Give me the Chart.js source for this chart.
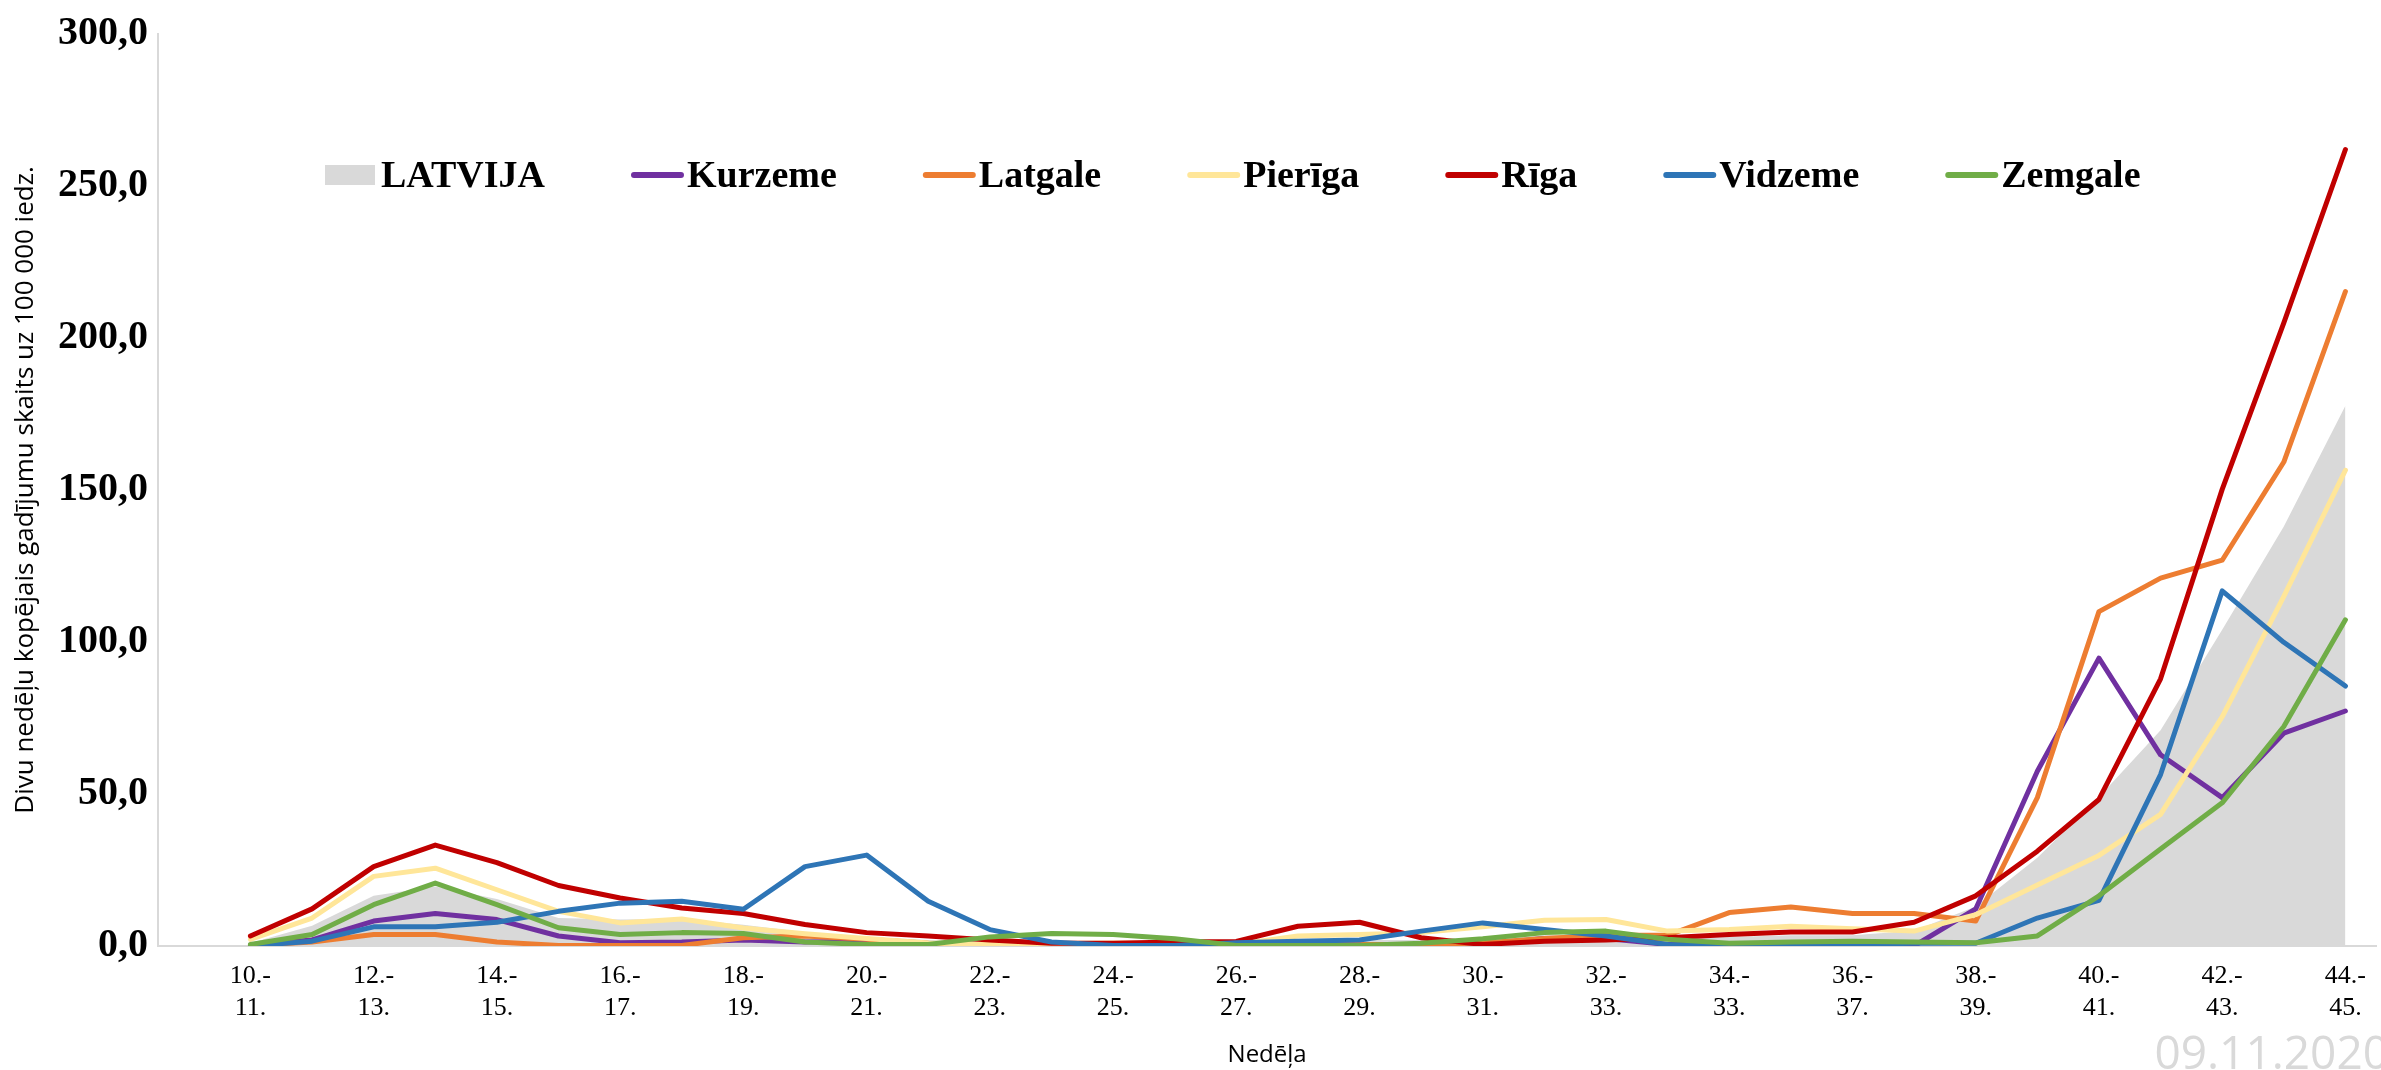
<!DOCTYPE html>
<html lang="lv">
<head>
<meta charset="utf-8">
<title>Divu nedēļu kopējais gadījumu skaits</title>
<script src="https://cdn.jsdelivr.net/npm/chart.js@4.4.0/dist/chart.umd.min.js"></script>
<style>
  html, body { margin: 0; padding: 0; background: #fff; }
  #wrap { position: relative; width: 2381px; height: 1070px; overflow: hidden; }
  #stamp {
    position: absolute; right: -8px; bottom: -4px;
    font: 46px 'Liberation Sans Narrow', 'Open Sans', sans-serif;
    color: #d9d9d9; line-height: 1;
  }
</style>
</head>
<body>
<div id="wrap">
  <canvas id="chart"></canvas>
  <div id="stamp">09.11.2020</div>
</div>
<script>
// ===== DATA =====
// first slot is an empty lead-in category (no data, no label)
const weeks = ['',
  '10.-11.', '11.-12.', '12.-13.', '13.-14.', '14.-15.', '15.-16.', '16.-17.', '17.-18.',
  '18.-19.', '19.-20.', '20.-21.', '21.-22.', '22.-23.', '23.-24.', '24.-25.', '25.-26.',
  '26.-27.', '27.-28.', '28.-29.', '29.-30.', '30.-31.', '31.-32.', '32.-33.', '33.-34.',
  '34.-33.', '35.-36.', '36.-37.', '37.-38.', '38.-39.', '39.-40.', '40.-41.', '41.-42.',
  '42.-43.', '43.-44.', '44.-45.'];

const latvija = [null, 1.0, 6.7, 16.5, 19.6, 15.5, 9.2, 8.7, 8.9, 7.0, 4.5, 3.0, 2.0, 1.5, 1.2, 1.0, 1.0, 0.8,
  1.5, 2.0, 2.0, 2.0, 3.5, 3.5, 2.5, 3.0, 3.5, 3.5, 5.0, 13.0, 29.0, 49.0, 71.0, 104.0, 138.0, 177.7];
const kurzeme = [null, 0.3, 2.0, 8.2, 10.7, 8.7, 3.3, 1.1, 1.3, 2.0, 1.3, 1.6, 0.5, 0.2, 0.5, 0.5, 0.5, 0.5,
  0.5, 0.5, 0.3, 0.5, 2.5, 2.5, 0.5, 0.5, 0.5, 0.2, 0.0, 12.2, 57.5, 94.7, 62.9, 48.8, 70.0, 77.3];
const latgale = [null, 0.2, 1.3, 3.8, 3.8, 1.3, 0.2, 0.2, 0.2, 2.7, 3.3, 2.2, 0.9, 0.3, 0.5, 0.3, 0.5, 0.3,
  0.3, 0.5, 0.5, 1.0, 2.5, 3.5, 3.5, 11.0, 12.8, 10.7, 10.7, 8.2, 48.8, 110.0, 121.0, 126.9, 159.2, 215.3];
const pieriga = [null, 2.2, 9.2, 22.9, 25.6, 18.5, 11.4, 7.6, 8.9, 5.9, 4.0, 2.5, 1.0, 0.5, 0.8, 1.0, 0.8, 0.5,
  3.3, 3.8, 4.4, 6.3, 8.5, 8.7, 4.9, 5.4, 6.5, 5.7, 4.9, 10.3, 20.1, 29.8, 43.3, 75.4, 115.0, 156.5];
const riga = [null, 3.3, 12.2, 26.1, 33.2, 27.4, 19.9, 15.8, 12.5, 10.7, 7.1, 4.4, 3.3, 2.0, 0.9, 0.9, 1.3, 1.5,
  6.5, 7.8, 2.7, 0.5, 1.6, 2.0, 2.7, 3.8, 4.6, 4.6, 7.8, 16.5, 31.2, 48.2, 87.9, 150.2, 205.0, 262.0];
const vidzeme = [null, 0.0, 1.6, 6.3, 6.3, 7.8, 11.4, 14.1, 14.7, 12.1, 26.1, 29.9, 14.7, 5.4, 1.3, 0.2, 0.2, 1.1,
  1.6, 2.0, 4.9, 7.6, 5.4, 3.3, 0.5, 0.0, 0.2, 0.5, 0.9, 0.9, 9.2, 15.0, 56.4, 116.8, 99.9, 85.5];
const zemgale = [null, 0.5, 3.8, 13.6, 20.7, 13.6, 6.0, 3.8, 4.4, 4.1, 1.3, 0.5, 0.5, 3.0, 4.1, 3.8, 2.4, 0.2,
  0.2, 0.2, 0.9, 2.4, 4.4, 4.9, 2.2, 0.9, 1.3, 1.6, 1.3, 1.1, 3.3, 16.5, 31.9, 47.1, 72.2, 107.3];

const yTicks = [0, 50, 100, 150, 200, 250, 300];

// Colors
const GRAY   = '#D9D9D9';
const PURPLE = '#7030A0';
const ORANGE = '#ED7D31';
const YELLOW = '#FFE699';
const RED    = '#C00000';
const BLUE   = '#2E75B6';
const GREEN  = '#70AD47';
const AXIS   = '#D9D9D9';

const SERIF = '"Liberation Serif", "Times New Roman", serif';
const SANS  = '"Open Sans", "DejaVu Sans", sans-serif';

function lineSet(label, data, color) {
  return {
    label, data,
    borderColor: color,
    backgroundColor: color,
    borderWidth: 5,
    borderJoinStyle: 'round',
    borderCapStyle: 'round',
    pointRadius: 0,
    fill: false,
    tension: 0,
  };
}

const datasets = [
  {
    label: 'LATVIJA',
    data: latvija,
    borderWidth: 0,
    borderColor: GRAY,
    backgroundColor: GRAY,
    pointRadius: 0,
    fill: 'origin',
    tension: 0,
  },
  lineSet('Kurzeme', kurzeme, PURPLE),
  lineSet('Latgale', latgale, ORANGE),
  lineSet('Pierīga', pieriga, YELLOW),
  lineSet('Rīga', riga, RED),
  lineSet('Vidzeme', vidzeme, BLUE),
  lineSet('Zemgale', zemgale, GREEN),
];
// later series sit on top, like the source
datasets.forEach((ds, i) => { ds.order = datasets.length - i; });

// ── legend drawn inside the plot, one row ──
const plotLegend = {
  id: 'plotLegend',
  afterDraw(chart) {
    const ctx = chart.ctx;
    const baseY = 187, midY = 175;
    let x = 325;
    ctx.save();
    ctx.font = 'bold 38px ' + SERIF;
    ctx.textBaseline = 'alphabetic';
    chart.data.datasets.forEach(ds => {
      if (ds.fill) {
        ctx.fillStyle = ds.backgroundColor;
        ctx.fillRect(x, midY - 10, 50, 20);
      } else {
        ctx.strokeStyle = ds.borderColor;
        ctx.lineWidth = 6;
        ctx.lineCap = 'round';
        ctx.beginPath();
        ctx.moveTo(x + 3, midY);
        ctx.lineTo(x + 50, midY);
        ctx.stroke();
      }
      ctx.fillStyle = '#000';
      ctx.fillText(ds.label, x + 56, baseY);
      x += 56 + ctx.measureText(ds.label).width + 86;
    });
    ctx.restore();
  }
};

Chart.defaults.font.family = SERIF;

new Chart(document.getElementById('chart'), {
  type: 'line',
  data: { labels: weeks, datasets },
  plugins: [plotLegend],
  options: {
    responsive: true,
    maintainAspectRatio: false,
    animation: false,
    layout: { padding: { top: 27, right: 0, bottom: 0, left: 0 } },
    plugins: { legend: { display: false }, tooltip: { enabled: false } },
    scales: {
      x: {
        offset: true,
        grid: { display: false, drawTicks: false },
        border: { display: true, color: AXIS, width: 2 },
        ticks: {
          autoSkip: false, maxRotation: 0, minRotation: 0, padding: 15,
          color: '#000', font: { family: SERIF, size: 26 },
          callback: (v, i) => (i % 2 === 1 ? weeks[i].replace('-', '-\n').split('\n') : ''),
        },
        title: {
          display: true, text: 'Nedēļa', color: '#000',
          font: { family: SANS, size: 24 }, padding: { top: 0, bottom: 0 },
        },
        afterFit: s => { s.height = 124; },
      },
      y: {
        min: 0, max: 300,
        grid: { display: false, drawTicks: false },
        border: { display: true, color: AXIS, width: 2 },
        afterBuildTicks: s => { s.ticks = yTicks.map(v => ({ value: v })); },
        ticks: {
          padding: 10, color: '#000',
          font: { family: SERIF, size: 40, weight: 'bold' },
          callback: v => v.toFixed(1).replace('.', ','),
        },
        title: {
          display: true, text: 'Divu nedēļu kopējais gadījumu skaits uz 100 000 iedz.',
          color: '#000', font: { family: SANS, size: 26 }, padding: { top: 10, bottom: 0 },
        },
        afterFit: s => { s.width = 158; },
      },
    },
  },
});
</script>
</body>
</html>
